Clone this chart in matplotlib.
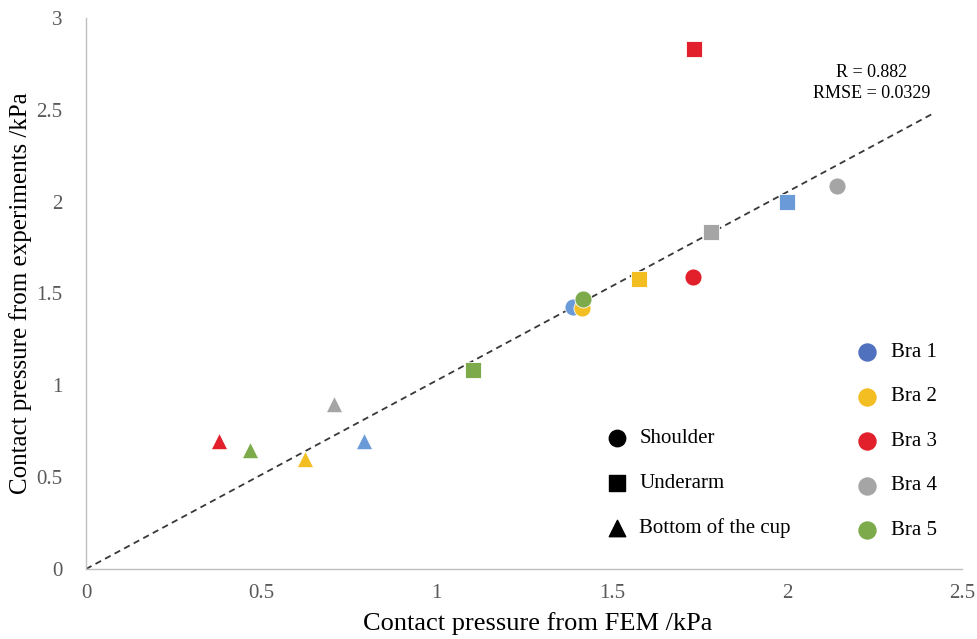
import matplotlib
matplotlib.use("Agg")
import matplotlib.pyplot as plt

plt.rcParams["font.family"] = ["Liberation Serif", "DejaVu Serif"]

BRAS = ["Bra 1", "Bra 2", "Bra 3", "Bra 4", "Bra 5"]
POINT_COLORS = ["#6A9BD8", "#F2BE22", "#E2202B", "#A5A5A5", "#7DAB4B"]
LEGEND_COLORS = ["#4F71BE", "#F2BE22", "#E2202B", "#A5A5A5", "#7DAB4B"]

# FEM (x) and experiment (y) per location, ordered Bra 1..5
shoulder_fem = [1.39, 1.415, 1.732, 2.143, 1.418]
shoulder_exp = [1.426, 1.42, 1.59, 2.085, 1.47]
underarm_fem = [2.0, 1.578, 1.735, 1.784, 1.104]
underarm_exp = [2.0, 1.58, 2.83, 1.835, 1.083]
cup_fem = [0.793, 0.625, 0.38, 0.708, 0.468]
cup_exp = [0.697, 0.6, 0.697, 0.898, 0.648]

fit_x = [0.0, 2.414]
fit_y = [0.0, 2.477]

LOCATIONS = ["Shoulder", "Underarm", "Bottom of the cup"]
MARKERS = ["o", "s", "^"]

fig = plt.figure(figsize=(9.77, 6.39), dpi=100)
ax = fig.add_axes([0.088, 0.1095, 0.897, 0.8625])

ax.plot(fit_x, fit_y, linestyle=(0, (3.5, 2.5)), color="#383838", lw=1.3, zorder=1)

series = [(shoulder_fem, shoulder_exp, "o", 150),
          (underarm_fem, underarm_exp, "s", 125),
          (cup_fem, cup_exp, "^", 140)]
for xs, ys, m, s in series:
    for x, y, c in zip(xs, ys, POINT_COLORS):
        ax.scatter(x, y, marker=m, s=s, color=c, edgecolors="white",
                   linewidths=0.6, zorder=3)

# location legend (black markers)
for i, (lab, m) in enumerate(zip(LOCATIONS, MARKERS)):
    yy = 0.713 - i * 0.245
    ax.scatter(1.515, yy, marker=m, s=140 if m != "s" else 125, color="black", zorder=3)
    ax.text(1.578, yy, lab, fontsize=15, va="center", ha="left")

# bra legend (colored circles)
for i, (lab, c) in enumerate(zip(BRAS, LEGEND_COLORS)):
    yy = 1.181 - i * 0.2425
    ax.scatter(2.229, yy, marker="o", s=150, color=c, zorder=3)
    ax.text(2.297, yy, lab, fontsize=15, va="center", ha="left")

ax.text(2.24, 2.646, "R = 0.882\nRMSE = 0.0329", fontsize=13, ha="center",
        va="center", linespacing=1.3)

ax.set_xlim(0, 2.5)
ax.set_ylim(0, 3)
ax.set_xticks([0, 0.5, 1, 1.5, 2, 2.5])
ax.set_xticklabels(["0", "0.5", "1", "1.5", "2", "2.5"])
ax.set_yticks([0, 0.5, 1, 1.5, 2, 2.5, 3])
ax.set_yticklabels(["0", "0.5", "1", "1.5", "2", "2.5", "3"])
ax.tick_params(length=0, labelsize=15, labelcolor="#595959")
ax.tick_params(axis="x", pad=11)
ax.tick_params(axis="y", pad=17)
for side in ["top", "right"]:
    ax.spines[side].set_visible(False)
for side in ["left", "bottom"]:
    ax.spines[side].set_color("#BFBFBF")
    ax.spines[side].set_linewidth(1.0)

ax.set_xlabel("Contact pressure from FEM /kPa", fontsize=19)
ax.xaxis.set_label_coords(0.515, -0.078)
ax.set_ylabel("Contact pressure from experiments /kPa", fontsize=18)
ax.yaxis.set_label_coords(-0.062, 0.5)

fig.savefig("out.png", dpi=100)
